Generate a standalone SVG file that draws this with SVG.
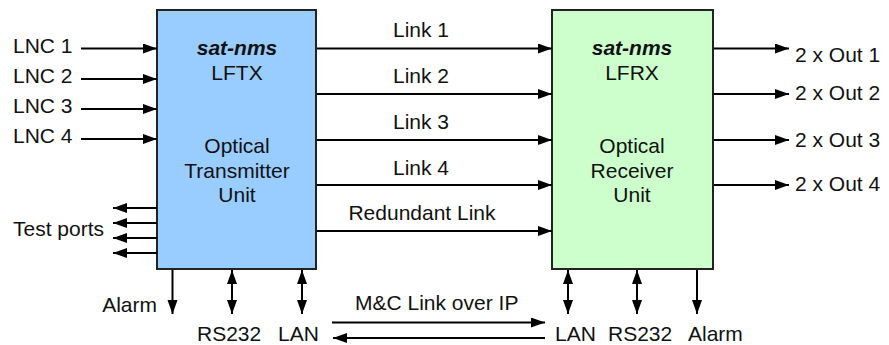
<svg xmlns="http://www.w3.org/2000/svg" width="889" height="345" viewBox="0 0 889 345">
<defs>
<marker id="ah" markerUnits="userSpaceOnUse" markerWidth="15" markerHeight="11" refX="14" refY="5" orient="auto-start-reverse">
<path d="M0,0 L14,5 L0,10 z" fill="#000"/>
</marker>
<style>
text{font-family:"Liberation Sans",Arial,Helvetica,sans-serif;font-size:21px;fill:#111}
.c{text-anchor:middle}
.e{text-anchor:end}
.b{font-weight:bold;font-style:italic}
.box{stroke:#222;stroke-width:2}
.cn line{stroke:#000;stroke-width:2;marker-end:url(#ah)}
.cn line.d{marker-start:url(#ah)}
</style>
</defs>
<g id="lftx">
<rect class="box" x="157" y="10" width="159" height="259" fill="#99ccff"/>
<text class="c b" x="237" y="55">sat-nms</text>
<text class="c" x="237" y="80">LFTX</text>
<text class="c" x="237" y="153">Optical</text>
<text class="c" x="237" y="178">Transmitter</text>
<text class="c" x="237" y="202">Unit</text>
</g>
<g id="lfrx">
<rect class="box" x="552" y="10" width="161" height="259" fill="#ccffcc"/>
<text class="c b" x="632" y="55">sat-nms</text>
<text class="c" x="632" y="80">LFRX</text>
<text class="c" x="632" y="153">Optical</text>
<text class="c" x="632" y="178">Receiver</text>
<text class="c" x="632" y="202">Unit</text>
</g>
<g id="inputs">
<text x="13" y="53">LNC 1</text>
<text x="13" y="83">LNC 2</text>
<text x="13" y="113">LNC 3</text>
<text x="13" y="143">LNC 4</text>
<text x="13" y="236">Test ports</text>
</g>
<g id="outputs">
<text x="795" y="62">2 x Out 1</text>
<text x="795" y="100">2 x Out 2</text>
<text x="795" y="147">2 x Out 3</text>
<text x="795" y="191">2 x Out 4</text>
</g>
<g id="ports">
<text class="e" x="157" y="312">Alarm</text>
<text x="197" y="341">RS232</text>
<text x="278" y="341">LAN</text>
<text x="555" y="341">LAN</text>
<text x="608" y="341">RS232</text>
<text x="688" y="341">Alarm</text>
</g>
<g id="link-labels">
<text class="c" x="421" y="37">Link 1</text>
<text class="c" x="421" y="83">Link 2</text>
<text class="c" x="421" y="129">Link 3</text>
<text class="c" x="421" y="175">Link 4</text>
<text class="c" x="422" y="220">Redundant Link</text>
<text x="355" y="310">M&amp;C Link over IP</text>
</g>
<g id="connectors" class="cn">
<line x1="81" y1="48.5" x2="157" y2="48.5"/>
<line x1="81" y1="79" x2="157" y2="79"/>
<line x1="81" y1="109" x2="157" y2="109"/>
<line x1="81" y1="139" x2="157" y2="139"/>
<line x1="157" y1="208" x2="113" y2="208"/>
<line x1="157" y1="223" x2="113" y2="223"/>
<line x1="157" y1="238" x2="113" y2="238"/>
<line x1="157" y1="253" x2="113" y2="253"/>
<line x1="317" y1="48.5" x2="552" y2="48.5"/>
<line x1="317" y1="94" x2="552" y2="94"/>
<line x1="317" y1="140" x2="552" y2="140"/>
<line x1="317" y1="185" x2="552" y2="185"/>
<line x1="317" y1="231" x2="552" y2="231"/>
<line x1="714" y1="48.5" x2="789" y2="48.5"/>
<line x1="714" y1="94" x2="789" y2="94"/>
<line x1="714" y1="140" x2="789" y2="140"/>
<line x1="714" y1="185" x2="789" y2="185"/>
<line x1="172.5" y1="270" x2="172.5" y2="314"/>
<line class="d" x1="232" y1="270" x2="232" y2="314"/>
<line class="d" x1="302" y1="270" x2="302" y2="314"/>
<line class="d" x1="568" y1="270" x2="568" y2="314"/>
<line class="d" x1="637" y1="270" x2="637" y2="314"/>
<line x1="697" y1="270" x2="697" y2="314"/>
<line x1="332" y1="322.5" x2="545" y2="322.5"/>
<line x1="545" y1="338" x2="333" y2="338"/>
</g>
</svg>
